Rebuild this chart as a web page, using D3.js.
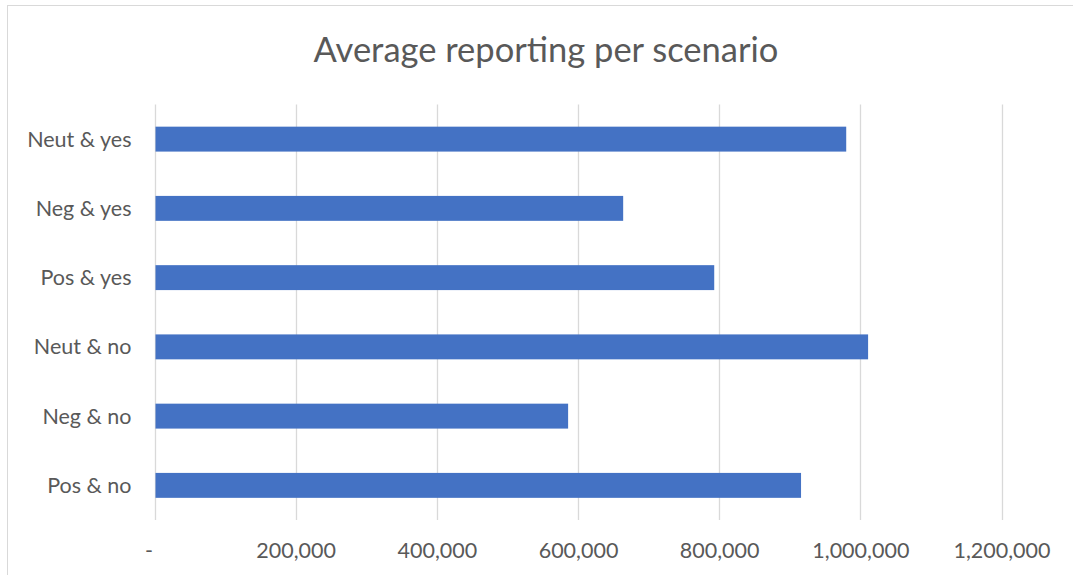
<!DOCTYPE html>
<html>
<head>
<meta charset="utf-8">
<script src="https://cdn.jsdelivr.net/npm/d3@7"></script>
<style>
  html, body { margin: 0; padding: 0; background: #ffffff; }
  svg { display: block; }
  text { font-family: Lato, "Open Sans", sans-serif; fill: #595959; }
</style>
</head>
<body>
<svg id="chart" width="1073" height="575"></svg>
<script>
const title = "Average reporting per scenario";
const categories = ["Neut & yes", "Neg & yes", "Pos & yes", "Neut & no", "Neg & no", "Pos & no"];
const values = [980000, 664000, 793000, 1011000, 586000, 916000];
const tickValues = [0, 200000, 400000, 600000, 800000, 1000000, 1200000];
const tickLabels = ["-", "200,000", "400,000", "600,000", "800,000", "1,000,000", "1,200,000"];

const svg = d3.select("#chart");
const W = 1073, H = 575;
const plot = { left: 154.5, right: 1001.5, top: 104.5, bottom: 520 };

// chart border
svg.append("rect")
  .attr("x", 7.5).attr("y", 5.5)
  .attr("width", W + 20).attr("height", H + 20)
  .attr("fill", "#ffffff")
  .attr("stroke", "#d9d9d9").attr("stroke-width", 1);

const x = d3.scaleLinear().domain([0, 1200000]).range([plot.left, plot.right]);
const y = d3.scaleBand().domain(categories).range([plot.top, plot.bottom]).paddingInner(0.64).paddingOuter(0.32);

// gridlines
svg.append("g")
  .selectAll("line")
  .data(tickValues)
  .join("line")
  .attr("x1", d => Math.round(x(d)) + 0.5)
  .attr("x2", d => Math.round(x(d)) + 0.5)
  .attr("y1", plot.top)
  .attr("y2", plot.bottom)
  .attr("stroke", "#d9d9d9")
  .attr("stroke-width", 1.3);

// bars
svg.append("g")
  .selectAll("rect")
  .data(categories)
  .join("rect")
  .attr("x", x(0) + 1)
  .attr("y", d => y(d))
  .attr("width", (d, i) => x(values[i]) - x(0) - 1)
  .attr("height", y.bandwidth())
  .attr("fill", "#4472c4");

// x axis tick labels
const xAxis = d3.axisBottom(x)
  .tickValues(tickValues)
  .tickFormat((d, i) => tickLabels[i])
  .tickSize(0)
  .tickPadding(0);
const gx = svg.append("g")
  .attr("transform", `translate(0, ${plot.bottom})`)
  .call(xAxis);
gx.select(".domain").remove();
gx.selectAll("text")
  .attr("y", 38)
  .attr("dy", null)
  .attr("dx", d => d === 0 ? -6 : 0)
  .style("font-family", "Lato, 'Open Sans', sans-serif")
  .style("font-size", "21.5px")
  .attr("fill", "#595959");

// y axis category labels
const yAxis = d3.axisLeft(y).tickSize(0).tickPadding(0);
const gy = svg.append("g")
  .attr("transform", `translate(${plot.left - 23}, 0)`)
  .call(yAxis);
gy.select(".domain").remove();
gy.selectAll("text")
  .attr("dy", "0.35em")
  .style("font-family", "Lato, 'Open Sans', sans-serif")
  .style("font-size", "21.5px")
  .attr("fill", "#595959");

// title
svg.append("text")
  .attr("x", 546)
  .attr("y", 62)
  .attr("text-anchor", "middle")
  .style("font-size", "34.5px")
  .text(title);
</script>
</body>
</html>
